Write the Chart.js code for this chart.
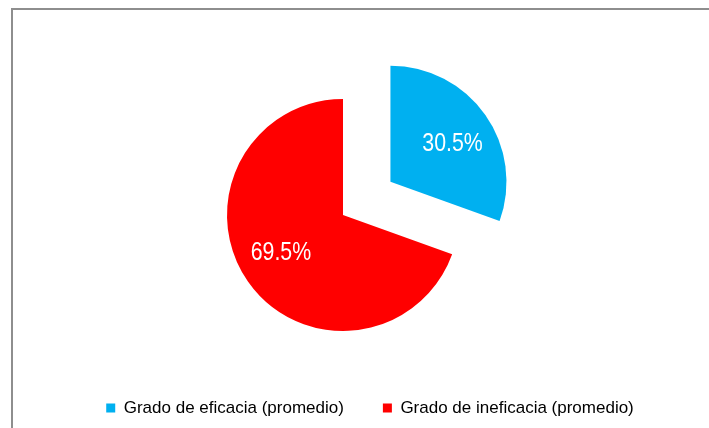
<!DOCTYPE html>
<html>
<head>
<meta charset="utf-8">
<title>Grado de eficacia</title>
<script src="https://cdn.jsdelivr.net/npm/chart.js@4.4.0/dist/chart.umd.min.js"></script>
<style>
    html, body { margin: 0; padding: 0; background: #fff; }
    #wrap { position: relative; width: 709px; height: 428px; overflow: hidden; }
    #frame { position: absolute; left: 11px; top: 8px; width: 760px; height: 480px;
             border-left: 2px solid #8e8e8e; border-top: 2px solid #8e8e8e; }
    #myChart { position: absolute; left: 0; top: 0; }
</style>
</head>
<body>
<div id="wrap">
    <div id="frame"></div>
    <canvas id="myChart" width="709" height="428"></canvas>
</div>
<script>
const labels = ['Grado de eficacia (promedio)', 'Grado de ineficacia (promedio)'];
const values = [30.5, 69.5];
const colors = ['#00B0F0', '#FF0000'];

// no narrow face installed, so Liberation Sans (squeezed for the slice labels)
const fontName = "'Liberation Sans', Arial, sans-serif";

// pulls one slice out along its mid angle
const explodePlugin = {
    id: 'explode',
    afterDatasetsUpdate(chart, args, opts) {
        const meta = chart.getDatasetMeta(0);
        const arc = meta.data[opts.index];
        if (!arc) return;
        const mid = (arc.startAngle + arc.endAngle) / 2;
        arc.x += Math.cos(mid) * opts.distance;
        arc.y += Math.sin(mid) * opts.distance;
    }
};

// percentage labels inside the slices
const sliceLabels = {
    id: 'sliceLabels',
    afterDatasetsDraw(chart, args, opts) {
        const ctx = chart.ctx;
        const meta = chart.getDatasetMeta(0);
        meta.data.forEach((arc, i) => {
            const mid = (arc.startAngle + arc.endAngle) / 2 + opts.turn;
            const r = arc.outerRadius * opts.position;
            ctx.save();
            ctx.translate(arc.x + Math.cos(mid) * r, arc.y + Math.sin(mid) * r);
            ctx.scale(opts.squeeze, 1);
            ctx.fillStyle = opts.color;
            ctx.font = opts.font;
            ctx.textAlign = 'center';
            ctx.textBaseline = 'middle';
            ctx.fillText(values[i].toFixed(1) + '%', 0, 0);
            ctx.restore();
        });
    }
};

// legend sits a bit to the right of the pie in the original
const legendShift = {
    id: 'legendShift',
    afterLayout(chart, args, opts) {
        chart.legend.left += opts.dx;
        chart.legend.right += opts.dx;
    }
};

const ctx = document.getElementById('myChart').getContext('2d');
new Chart(ctx, {
    type: 'pie',
    data: {
        labels: labels,
        datasets: [{
            data: values,
            backgroundColor: colors,
            borderWidth: 0,
            radius: 116
        }]
    },
    options: {
        responsive: false,
        animation: false,
        events: [],
        layout: {
            padding: { left: 0, right: 23, top: 69.5, bottom: 1.5 }
        },
        plugins: {
            tooltip: { enabled: false },
            legend: {
                position: 'bottom',
                labels: {
                    boxWidth: 9,
                    boxHeight: 9,
                    padding: 39,
                    color: '#000',
                    font: { family: fontName, size: 17 }
                }
            },
            explode: { index: 0, distance: 58 },
            sliceLabels: { color: '#fff', font: "26px " + fontName, position: 0.625, turn: 0.07, squeeze: 0.82 },
            legendShift: { dx: 27 }
        }
    },
    plugins: [explodePlugin, sliceLabels, legendShift]
});
</script>
</body>
</html>
